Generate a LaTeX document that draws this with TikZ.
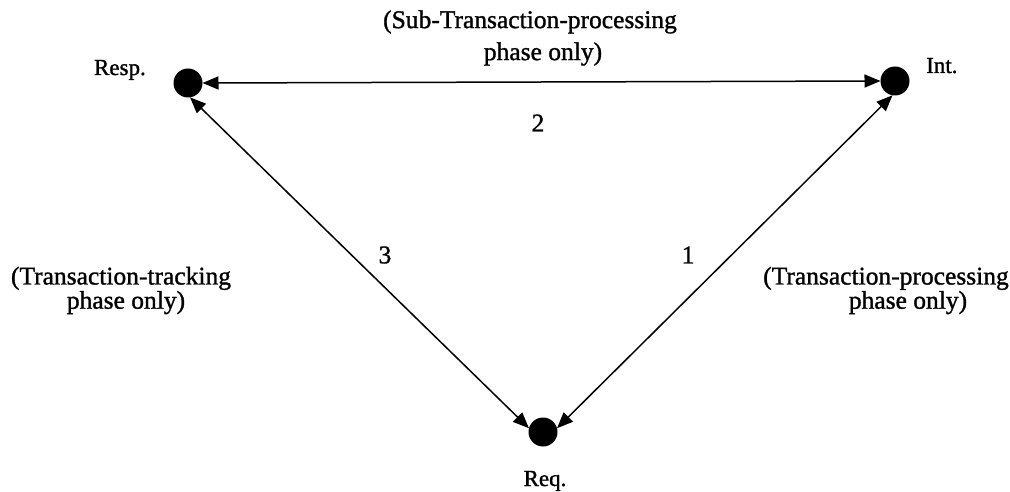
\documentclass[tikz,border=0pt]{standalone}
\usepackage{fontspec}
\setmainfont[FakeBold=1.2]{Liberation Serif}
\usetikzlibrary{arrows.meta}
\begin{document}
\begin{tikzpicture}[x=1pt,y=1pt,
  dot/.style={circle,fill=black,minimum size=29pt,inner sep=0pt,outer sep=0pt},
  conn/.style={{Triangle[length=16pt,width=13pt]}-{Triangle[length=16pt,width=13pt]},line width=1.5pt},
  lbl/.style={font=\fontsize{23}{26}\selectfont,inner sep=0pt},
  num/.style={font=\fontsize{25.5}{26}\selectfont,inner sep=0pt},
  sidetxt/.style={font=\fontsize{25.5}{23}\selectfont,align=center,inner sep=0pt},
  toptxt/.style={font=\fontsize{25.5}{32}\selectfont,align=center,inner sep=0pt}]
\useasboundingbox[fill=white] (0,0) rectangle (1010,491);
\node[dot] (resp) at (188,408) {};
\node[dot] (int) at (895,410) {};
\node[dot] (req) at (543,59) {};
\draw[conn] (resp.east) -- (int.west);
\draw[conn] (resp.-82) -- (req.165);
\draw[conn] (int.-100) -- (req.15);
\node[lbl,anchor=base east] (resplbl) at (146,416) {Resp.};
\node[lbl,anchor=base west] (intlbl) at (926,418) {Int.};
\node[lbl,anchor=base] (reqlbl) at (545,5) {Req.};
\node[num] (n2) at (538,368) {2};
\node[num] (n3) at (385,236) {3};
\node[num] (n1) at (688,236) {1};
\node[toptxt] (toptext) at (530,453) {(Sub-Transaction-processing\\\hspace*{26pt}phase only)};
\node[sidetxt] (lefttext) at (121,200.5) {(Transaction-tracking\\\hspace*{10pt}phase only)};
\node[sidetxt] (righttext) at (886,200.5) {(Transaction-processing\\\hspace*{44pt}phase only)};
\end{tikzpicture}
\end{document}
